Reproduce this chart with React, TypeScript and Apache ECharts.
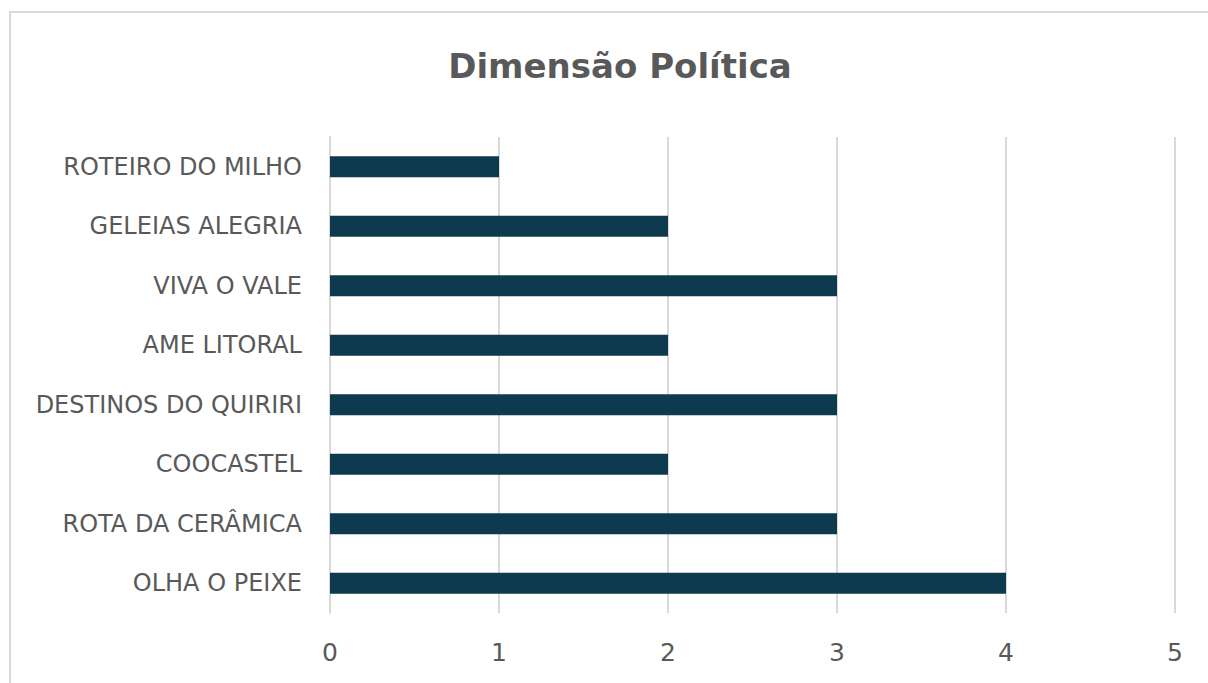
import React, { useEffect, useRef } from "react";
import * as echarts from "echarts";

const categories = [
  "OLHA O PEIXE",
  "ROTA DA CERÂMICA",
  "COOCASTEL",
  "DESTINOS DO QUIRIRI",
  "AME LITORAL",
  "VIVA O VALE",
  "GELEIAS ALEGRIA",
  "ROTEIRO DO MILHO",
];
const values = [4, 3, 2, 3, 2, 3, 2, 1];
const title = "Dimensão Política";

export default function App() {
  const ref = useRef<HTMLDivElement>(null);
  useEffect(() => {
    document.body.style.margin = "0";
    const chart = echarts.init(ref.current!, null, { renderer: "svg" });
    chart.setOption({
      animation: false,
      backgroundColor: "#ffffff",
      graphic: [
        {
          type: "rect",
          shape: { x: 10, y: 12, width: 1230, height: 700 },
          style: { fill: "none", stroke: "#d9d9d9", lineWidth: 2 },
          silent: true,
        },
        {
          type: "text",
          x: 620,
          y: 66,
          style: {
            text: title,
            textAlign: "center",
            textVerticalAlign: "middle",
            fontFamily: "DejaVu Sans",
            fontWeight: "bold",
            fontSize: 34,
            fill: "#595959",
          },
          silent: true,
        },
      ],
      grid: { left: 330, right: 33, top: 137, bottom: 70, containLabel: false },
      xAxis: {
        type: "value",
        min: 0,
        max: 5,
        interval: 1,
        axisLine: { show: false },
        axisTick: { show: false },
        splitLine: { lineStyle: { color: "#d9d9d9", width: 2 } },
        axisLabel: {
          fontFamily: "DejaVu Sans",
          fontSize: 25,
          color: "#595959",
          margin: 27,
        },
      },
      yAxis: {
        type: "category",
        data: categories,
        axisLine: { show: true, lineStyle: { color: "#d9d9d9", width: 2 } },
        axisTick: { show: false },
        axisLabel: {
          fontFamily: "DejaVu Sans",
          fontSize: 24,
          color: "#595959",
          margin: 28,
        },
      },
      series: [
        {
          type: "bar",
          data: values,
          barWidth: 21,
          itemStyle: { color: "#0e3a4f" },
        },
      ],
    });
    return () => chart.dispose();
  }, []);
  return <div ref={ref} style={{ width: 1208, height: 683 }} />;
}
